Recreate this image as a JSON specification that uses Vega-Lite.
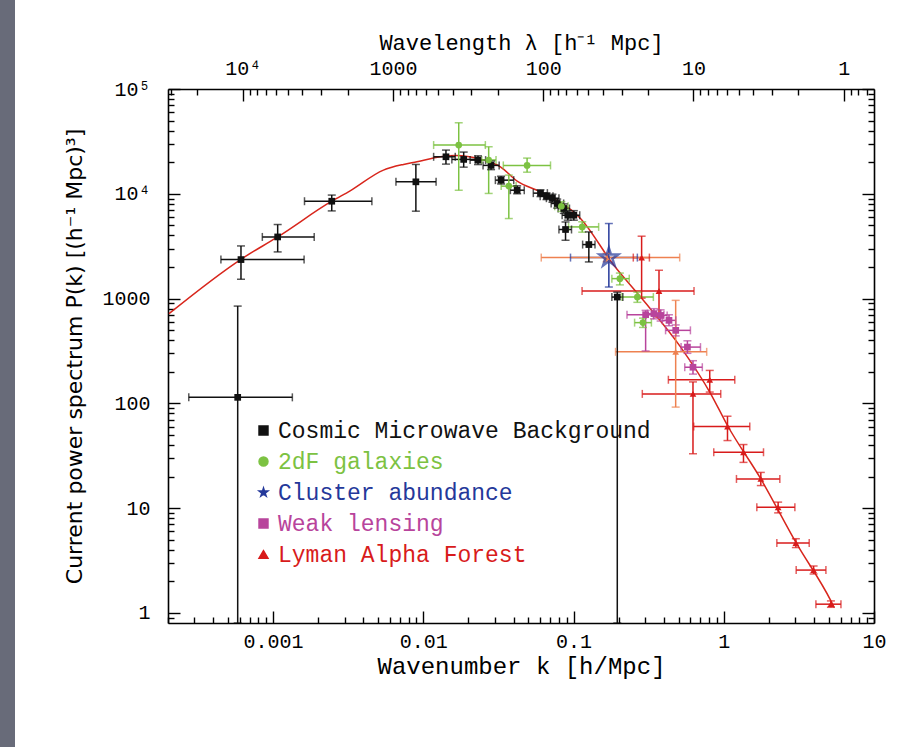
{
  "$schema": "https://vega.github.io/schema/vega-lite/v6.json",
  "width": 706,
  "height": 534,
  "autosize": {"type": "none"},
  "padding": {"left": 168, "top": 89, "right": 44, "bottom": 124},
  "background": "#686b79",
  "config": {
    "view": {"fill": "white", "stroke": "white", "strokeWidth": 306},
    "font": "Liberation Mono",
    "axis": {
      "grid": false,
      "domainColor": "#000000",
      "domainWidth": 1.6,
      "tickColor": "#000000",
      "tickWidth": 1.4,
      "labelColor": "#000000",
      "titleColor": "#000000",
      "labelFont": "Liberation Mono",
      "titleFont": "Liberation Mono",
      "labelFontWeight": "normal",
      "titleFontWeight": "normal",
      "labelOverlap": false,
      "labelFlush": false
    }
  },
  "datasets": {
    "pts": [
      {"set": "Cosmic Microwave Background", "k": 0.000582, "P": 114, "klo": 0.000275, "khi": 0.001345, "Plo": 0.8, "Phi": 847},
      {"set": "Cosmic Microwave Background", "k": 0.000612, "P": 2354, "klo": 0.00045, "khi": 0.00161, "Plo": 1528, "Phi": 3177},
      {"set": "Cosmic Microwave Background", "k": 0.001074, "P": 3873, "klo": 0.000849, "khi": 0.00188, "Plo": 2786, "Phi": 5087},
      {"set": "Cosmic Microwave Background", "k": 0.00246, "P": 8490, "klo": 0.00162, "khi": 0.00455, "Plo": 6863, "Phi": 9718},
      {"set": "Cosmic Microwave Background", "k": 0.00893, "P": 13000, "klo": 0.00658, "khi": 0.01217, "Plo": 6820, "Phi": 19050},
      {"set": "Cosmic Microwave Background", "k": 0.01416, "P": 22540, "klo": 0.01172, "khi": 0.01633, "Plo": 19190, "Phi": 26110},
      {"set": "Cosmic Microwave Background", "k": 0.01858, "P": 21280, "klo": 0.0155, "khi": 0.0222, "Plo": 17950, "Phi": 25000},
      {"set": "Cosmic Microwave Background", "k": 0.02314, "P": 20950, "klo": 0.0205, "khi": 0.026, "Plo": 19000, "Phi": 23000},
      {"set": "Cosmic Microwave Background", "k": 0.02826, "P": 18660, "klo": 0.025, "khi": 0.032, "Plo": 17000, "Phi": 20500},
      {"set": "Cosmic Microwave Background", "k": 0.03296, "P": 13490, "klo": 0.0302, "khi": 0.04, "Plo": 12400, "Phi": 14700},
      {"set": "Cosmic Microwave Background", "k": 0.04216, "P": 10820, "klo": 0.038, "khi": 0.047, "Plo": 10000, "Phi": 11900},
      {"set": "Cosmic Microwave Background", "k": 0.0603, "P": 10140, "klo": 0.054, "khi": 0.067, "Plo": 9400, "Phi": 10900},
      {"set": "Cosmic Microwave Background", "k": 0.0661, "P": 9480, "klo": 0.06, "khi": 0.073, "Plo": 8800, "Phi": 10200},
      {"set": "Cosmic Microwave Background", "k": 0.0724, "P": 9070, "klo": 0.066, "khi": 0.08, "Plo": 8300, "Phi": 9900},
      {"set": "Cosmic Microwave Background", "k": 0.0779, "P": 8080, "klo": 0.071, "khi": 0.086, "Plo": 7300, "Phi": 8900},
      {"set": "Cosmic Microwave Background", "k": 0.0862, "P": 7230, "klo": 0.079, "khi": 0.094, "Plo": 6500, "Phi": 8000},
      {"set": "Cosmic Microwave Background", "k": 0.0916, "P": 6240, "klo": 0.084, "khi": 0.1, "Plo": 5600, "Phi": 6900},
      {"set": "Cosmic Microwave Background", "k": 0.1005, "P": 6240, "klo": 0.092, "khi": 0.11, "Plo": 5600, "Phi": 6900},
      {"set": "Cosmic Microwave Background", "k": 0.0885, "P": 4560, "klo": 0.08, "khi": 0.097, "Plo": 3600, "Phi": 5380},
      {"set": "Cosmic Microwave Background", "k": 0.1265, "P": 3275, "klo": 0.115, "khi": 0.139, "Plo": 2235, "Phi": 4325},
      {"set": "Cosmic Microwave Background", "k": 0.1956, "P": 1033, "klo": 0.18, "khi": 0.213, "Plo": 0.8, "Phi": 1150},
      {"set": "2dF galaxies", "k": 0.01722, "P": 29170, "klo": 0.01172, "khi": 0.0259, "Plo": 10800, "Phi": 47600},
      {"set": "2dF galaxies", "k": 0.02725, "P": 21000, "klo": 0.0245, "khi": 0.0305, "Plo": 10070, "Phi": 28100},
      {"set": "2dF galaxies", "k": 0.0371, "P": 11830, "klo": 0.033, "khi": 0.0415, "Plo": 5800, "Phi": 15070},
      {"set": "2dF galaxies", "k": 0.0491, "P": 18660, "klo": 0.0341, "khi": 0.0703, "Plo": 16070, "Phi": 21900},
      {"set": "2dF galaxies", "k": 0.083, "P": 7600, "klo": 0.075, "khi": 0.092, "Plo": 6800, "Phi": 8400},
      {"set": "2dF galaxies", "k": 0.1143, "P": 4827, "klo": 0.0927, "khi": 0.147, "Plo": 4300, "Phi": 5400},
      {"set": "2dF galaxies", "k": 0.2035, "P": 1549, "klo": 0.18, "khi": 0.235, "Plo": 1350, "Phi": 1750},
      {"set": "2dF galaxies", "k": 0.266, "P": 1033, "klo": 0.21, "khi": 0.34, "Plo": 920, "Phi": 1150},
      {"set": "2dF galaxies", "k": 0.29, "P": 589, "klo": 0.255, "khi": 0.33, "Plo": 530, "Phi": 650},
      {"set": "Cluster abundance", "k": 0.1719, "P": 2460, "klo": 0.0955, "khi": 0.266, "Plo": 1288, "Phi": 5200},
      {"set": "Weak lensing", "k": 0.302, "P": 701, "klo": 0.227, "khi": 0.4, "Plo": 316, "Phi": 771},
      {"set": "Weak lensing", "k": 0.343, "P": 718, "klo": 0.31, "khi": 0.38, "Plo": 640, "Phi": 800},
      {"set": "Weak lensing", "k": 0.38, "P": 690, "klo": 0.34, "khi": 0.42, "Plo": 610, "Phi": 780},
      {"set": "Weak lensing", "k": 0.432, "P": 619, "klo": 0.39, "khi": 0.48, "Plo": 550, "Phi": 700},
      {"set": "Weak lensing", "k": 0.479, "P": 497, "klo": 0.41, "khi": 0.6, "Plo": 440, "Phi": 560},
      {"set": "Weak lensing", "k": 0.573, "P": 344, "klo": 0.52, "khi": 0.7, "Plo": 300, "Phi": 395},
      {"set": "Weak lensing", "k": 0.624, "P": 221, "klo": 0.55, "khi": 0.72, "Plo": 190, "Phi": 255},
      {"set": "Lyman Alpha Forest", "k": 0.3707, "P": 1180, "klo": 0.114, "khi": 0.634, "Plo": 665, "Phi": 1862},
      {"set": "Lyman Alpha Forest", "k": 0.284, "P": 2460, "klo": 0.25, "khi": 0.32, "Plo": 1009, "Phi": 3936},
      {"set": "Lyman Alpha Forest", "k": 0.8066, "P": 167.8, "klo": 0.428, "khi": 1.184, "Plo": 128, "Phi": 206},
      {"set": "Lyman Alpha Forest", "k": 0.624, "P": 123, "klo": 0.287, "khi": 0.955, "Plo": 33, "Phi": 160},
      {"set": "Lyman Alpha Forest", "k": 1.059, "P": 60, "klo": 0.631, "khi": 1.49, "Plo": 44.1, "Phi": 75.3},
      {"set": "Lyman Alpha Forest", "k": 1.353, "P": 34.1, "klo": 0.858, "khi": 1.839, "Plo": 27.3, "Phi": 40.4},
      {"set": "Lyman Alpha Forest", "k": 1.765, "P": 18.97, "klo": 1.215, "khi": 2.362, "Plo": 16.4, "Phi": 21.9},
      {"set": "Lyman Alpha Forest", "k": 2.301, "P": 10.16, "klo": 1.66, "khi": 2.974, "Plo": 9, "Phi": 11.4},
      {"set": "Lyman Alpha Forest", "k": 3.02, "P": 4.64, "klo": 2.256, "khi": 3.705, "Plo": 4.2, "Phi": 5.1},
      {"set": "Lyman Alpha Forest", "k": 3.963, "P": 2.56, "klo": 3.034, "khi": 4.786, "Plo": 2.35, "Phi": 2.8},
      {"set": "Lyman Alpha Forest", "k": 5.168, "P": 1.21, "klo": 4.105, "khi": 6.026, "Plo": 1.13, "Phi": 1.3},
      {"set": "Lyman Alpha Forest (2)", "k": 0.4786, "P": 310, "klo": 0.1905, "khi": 0.77, "Plo": 92, "Phi": 961},
      {"set": "Lyman Alpha Forest (2)", "k": 0.166, "P": 2460, "klo": 0.061, "khi": 0.509, "Plo": 2250, "Phi": 2700}
    ],
    "curve": [
      {"k": 0.000203, "P": 718},
      {"k": 0.000612, "P": 2371},
      {"k": 0.001074, "P": 3873},
      {"k": 0.00246, "P": 8490},
      {"k": 0.00326, "P": 10660},
      {"k": 0.00543, "P": 16820},
      {"k": 0.00739, "P": 19060},
      {"k": 0.00908, "P": 20180},
      {"k": 0.01298, "P": 22530},
      {"k": 0.01634, "P": 23140},
      {"k": 0.02523, "P": 20940},
      {"k": 0.03262, "P": 18080},
      {"k": 0.04214, "P": 13200},
      {"k": 0.06026, "P": 10420},
      {"k": 0.1113, "P": 5805},
      {"k": 0.1856, "P": 2077},
      {"k": 0.2797, "P": 1033},
      {"k": 0.5167, "P": 343.9},
      {"k": 0.819, "P": 123.3},
      {"k": 1.0585, "P": 61.4},
      {"k": 1.765, "P": 18.97},
      {"k": 3.02, "P": 4.7},
      {"k": 5.168, "P": 1.3},
      {"k": 5.437, "P": 1.124}
    ],
    "guide": [
      {"lam": 1, "P": 1},
      {"lam": 10000, "P": 10000}
    ]
  },
  "layer": [
    {
      "layer": [
        {
          "data": {"name": "curve"},
          "mark": {"type": "line", "color": "#d8261c", "strokeWidth": 1.5, "interpolate": "monotone", "clip": true},
          "encoding": {
            "x": {
              "field": "k", "type": "quantitative",
              "scale": {"type": "log", "domain": [0.0002, 10], "nice": false},
              "axis": {
                "orient": "bottom",
                "title": "Wavenumber k [h/Mpc]",
                "titleFontSize": 24,
                "titlePadding": -3,
                "labelFontSize": 20,
                "labelPadding": 20,
                "values": [0.0002, 0.0003, 0.0004, 0.0005, 0.0006, 0.0007, 0.0008, 0.0009, 0.001, 0.002, 0.003, 0.004, 0.005, 0.006, 0.007, 0.008, 0.009, 0.01, 0.02, 0.03, 0.04, 0.05, 0.06, 0.07, 0.08, 0.09, 0.1, 0.2, 0.3, 0.4, 0.5, 0.6, 0.7, 0.8, 0.9, 1, 2, 3, 4, 5, 6, 7, 8, 9, 10],
                "labelExpr": "indexof([0.001, 0.01, 0.1, 1, 10], datum.value) >= 0 ? '' + datum.value : ''",
                "tickSize": {"condition": {"test": "indexof([0.001, 0.01, 0.1, 1, 10], datum.value) >= 0", "value": -12}, "value": -6}
              }
            },
            "y": {
              "field": "P", "type": "quantitative",
              "scale": {"type": "log", "domain": [0.8, 100000], "nice": false},
              "axis": {
                "orient": "left",
                "title": "Current power spectrum P(k) [(h⁻¹ Mpc)³]",
                "titleFont": "DejaVu Sans",
                "titleFontSize": 22,
                "titlePadding": 15,
                "labelFontSize": 20,
                "labelPadding": 30,
                "values": [0.9, 1, 2, 3, 4, 5, 6, 7, 8, 9, 10, 20, 30, 40, 50, 60, 70, 80, 90, 100, 200, 300, 400, 500, 600, 700, 800, 900, 1000, 2000, 3000, 4000, 5000, 6000, 7000, 8000, 9000, 10000, 20000, 30000, 40000, 50000, 60000, 70000, 80000, 90000, 100000],
                "labelExpr": "datum.value == 100000 ? '10⁵' : datum.value == 10000 ? '10⁴' : indexof([1, 10, 100, 1000], datum.value) >= 0 ? '' + datum.value : ''",
                "tickSize": {"condition": {"test": "indexof([1, 10, 100, 1000, 10000, 100000], datum.value) >= 0", "value": -12}, "value": -6}
              }
            }
          }
        },
        {
          "data": {"name": "pts"},
          "mark": {"type": "rule", "strokeWidth": 1.5, "clip": true},
          "encoding": {
            "x": {"field": "klo", "type": "quantitative"},
            "x2": {"field": "khi"},
            "y": {"field": "P", "type": "quantitative"},
            "color": {"field": "set", "type": "nominal"}
          }
        },
        {
          "data": {"name": "pts"},
          "mark": {"type": "rule", "strokeWidth": 1.5, "clip": true},
          "encoding": {
            "x": {"field": "k", "type": "quantitative"},
            "y": {"field": "Plo", "type": "quantitative"},
            "y2": {"field": "Phi"},
            "color": {"field": "set", "type": "nominal"}
          }
        },
        {
          "data": {"name": "pts"},
          "mark": {"type": "tick", "orient": "vertical", "size": 8, "thickness": 1.5, "clip": true},
          "encoding": {
            "x": {"field": "klo", "type": "quantitative"},
            "y": {"field": "P", "type": "quantitative"},
            "color": {"field": "set", "type": "nominal"}
          }
        },
        {
          "data": {"name": "pts"},
          "mark": {"type": "tick", "orient": "vertical", "size": 8, "thickness": 1.5, "clip": true},
          "encoding": {
            "x": {"field": "khi", "type": "quantitative"},
            "y": {"field": "P", "type": "quantitative"},
            "color": {"field": "set", "type": "nominal"}
          }
        },
        {
          "data": {"name": "pts"},
          "mark": {"type": "tick", "orient": "horizontal", "size": 8, "thickness": 1.5, "clip": true},
          "encoding": {
            "x": {"field": "k", "type": "quantitative"},
            "y": {"field": "Plo", "type": "quantitative"},
            "color": {"field": "set", "type": "nominal"}
          }
        },
        {
          "data": {"name": "pts"},
          "mark": {"type": "tick", "orient": "horizontal", "size": 8, "thickness": 1.5, "clip": true},
          "encoding": {
            "x": {"field": "k", "type": "quantitative"},
            "y": {"field": "Phi", "type": "quantitative"},
            "color": {"field": "set", "type": "nominal"}
          }
        },
        {
          "data": {"name": "pts"},
          "transform": [{"filter": "datum.set != 'Cluster abundance'"}],
          "mark": {"type": "point", "filled": true, "opacity": 1, "size": 45, "clip": true},
          "encoding": {
            "x": {"field": "k", "type": "quantitative"},
            "y": {"field": "P", "type": "quantitative"},
            "color": {
              "field": "set", "type": "nominal",
              "scale": {
                "domain": ["Cosmic Microwave Background", "2dF galaxies", "Cluster abundance", "Weak lensing", "Lyman Alpha Forest", "Lyman Alpha Forest (2)"],
                "range": ["#111111", "#7cc242", "#24389a", "#b8449c", "#d81b1b", "#ee8150"]
              },
              "legend": {
                "title": null,
                "orient": "none",
                "legendX": 84,
                "legendY": 330,
                "padding": 0,
                "values": ["Cosmic Microwave Background", "2dF galaxies", "Cluster abundance", "Weak lensing", "Lyman Alpha Forest"],
                "labelFont": "Liberation Mono",
                "labelFontSize": 23,
                "labelLimit": 0,
                "labelOffset": 3,
                "rowPadding": 7,
                "symbolSize": 80,
                "symbolStrokeWidth": 1.5,
                "encoding": {"labels": {"fill": {"value": {"expr": "scale('color', datum.value)"}}}}
              }
            },
            "shape": {
              "field": "set", "type": "nominal",
              "scale": {
                "domain": ["Cosmic Microwave Background", "2dF galaxies", "Cluster abundance", "Weak lensing", "Lyman Alpha Forest", "Lyman Alpha Forest (2)"],
                "range": ["square", "circle", "M0,-1L0.2245,-0.309L0.951,-0.309L0.3633,0.118L0.5878,0.809L0,0.382L-0.5878,0.809L-0.3633,0.118L-0.951,-0.309L-0.2245,-0.309Z", "square", "triangle-up", "triangle-up"]
              }
            }
          }
        },
        {
          "data": {"name": "pts"},
          "transform": [{"filter": "datum.set == 'Cluster abundance'"}],
          "mark": {"type": "point", "filled": false, "size": 380, "strokeWidth": 2.5, "color": "#24389a", "shape": "M0,-1L0.2245,-0.309L0.951,-0.309L0.3633,0.118L0.5878,0.809L0,0.382L-0.5878,0.809L-0.3633,0.118L-0.951,-0.309L-0.2245,-0.309Z", "clip": true},
          "encoding": {
            "x": {"field": "k", "type": "quantitative"},
            "y": {"field": "P", "type": "quantitative"}
          }
        }
      ]
    },
    {
      "data": {"name": "guide"},
      "mark": {"type": "point", "opacity": 0},
      "encoding": {
        "x": {
          "field": "lam", "type": "quantitative",
          "scale": {"type": "log", "domain": [0.6283, 31416], "reverse": true, "nice": false},
          "axis": {
            "orient": "top",
            "title": "Wavelength λ [h⁻¹ Mpc]",
            "titleFontSize": 22,
            "titlePadding": -2,
            "labelFontSize": 20,
            "labelPadding": 23,
            "values": [0.7, 0.8, 0.9, 1, 2, 3, 4, 5, 6, 7, 8, 9, 10, 20, 30, 40, 50, 60, 70, 80, 90, 100, 200, 300, 400, 500, 600, 700, 800, 900, 1000, 2000, 3000, 4000, 5000, 6000, 7000, 8000, 9000, 10000, 20000, 30000],
            "labelExpr": "datum.value == 10000 ? '10⁴' : indexof([1, 10, 100, 1000], datum.value) >= 0 ? '' + datum.value : ''",
            "tickSize": {"condition": {"test": "indexof([1, 10, 100, 1000, 10000], datum.value) >= 0", "value": -12}, "value": -6}
          }
        },
        "y": {
          "field": "P", "type": "quantitative",
          "scale": {"type": "log", "domain": [0.8, 100000], "nice": false},
          "axis": {
            "orient": "right",
            "title": null,
            "labels": false,
            "values": [0.9, 1, 2, 3, 4, 5, 6, 7, 8, 9, 10, 20, 30, 40, 50, 60, 70, 80, 90, 100, 200, 300, 400, 500, 600, 700, 800, 900, 1000, 2000, 3000, 4000, 5000, 6000, 7000, 8000, 9000, 10000, 20000, 30000, 40000, 50000, 60000, 70000, 80000, 90000, 100000],
            "tickSize": {"condition": {"test": "indexof([1, 10, 100, 1000, 10000, 100000], datum.value) >= 0", "value": -12}, "value": -6}
          }
        }
      }
    }
  ],
  "resolve": {"scale": {"x": "independent"}, "axis": {"x": "independent", "y": "independent"}}
}
